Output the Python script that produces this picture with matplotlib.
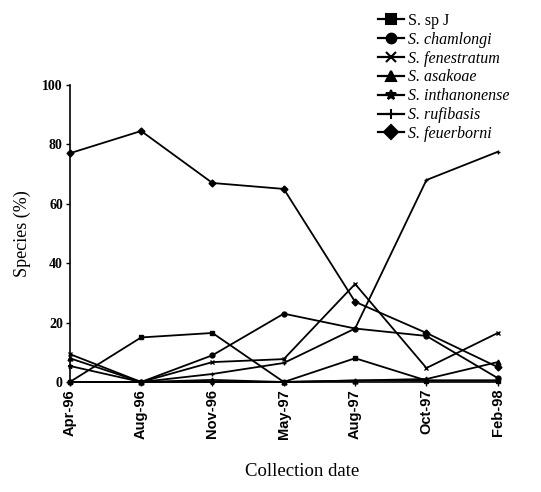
import matplotlib.pyplot as plt
from matplotlib.lines import Line2D

# Collection dates and species percentages
dates = ["Apr-96", "Aug-96", "Nov-96", "May-97", "Aug-97", "Oct-97", "Feb-98"]
sp_j = [0, 15, 16.5, 0, 8, 0.5, 0.5]
chamlongi = [0, 0, 9, 23, 18, 15.5, 1.3]
fenestratum = [9.4, 0, 6.7, 7.7, 33, 4.7, 16.5]
asakoae = [8, 0, 0.7, 0, 0.5, 1, 6.7]
inthanonense = [5.4, 0, 0, 0, 0.5, 0.5, 0.5]
rufibasis = [0, 0, 2.7, 6.4, 18, 68, 77.5]
feuerborni = [77, 84.5, 67, 65, 27, 16.5, 5]

series = [
    ("S. sp J", sp_j, "s"),
    ("S. chamlongi", chamlongi, "o"),
    ("S. fenestratum", fenestratum, "x"),
    ("S. asakoae", asakoae, "^"),
    ("S. inthanonense", inthanonense, "*"),
    ("S. rufibasis", rufibasis, "+"),
    ("S. feuerborni", feuerborni, "D"),
]

fig = plt.figure(figsize=(5.41, 4.92), dpi=100)
ax = fig.add_axes([0.129, 0.2236, 0.7911, 0.6037])

x = list(range(len(dates)))
handles = []
for label, vals, m in series:
    ax.plot(x, vals, color="black", linewidth=1.3, marker=m, markersize=3.5,
            markeredgewidth=1.0, clip_on=False)
    handles.append(Line2D([], [], color="black", linewidth=1.6, marker=m,
                          markersize=7, markeredgewidth=1.5, label=label))

ax.set_xlim(0, 6)
ax.set_ylim(0, 100)
ax.set_yticks([0, 20, 40, 60, 80, 100])
ax.set_xticks(x)
ax.set_xticklabels(dates, rotation=90, fontsize=10.5, fontweight="bold",
                   family="Liberation Sans")
for t in ax.get_yticklabels():
    t.set_fontsize(10)
    t.set_fontweight("bold")
    t.set_family("Liberation Serif")
ax.tick_params(axis="both", direction="out", length=3, width=1, pad=2)

ax.spines["top"].set_visible(False)
ax.spines["right"].set_visible(False)
ax.spines["left"].set_linewidth(1.2)
ax.spines["bottom"].set_linewidth(1.2)

ax.set_ylabel("Species (%)", fontsize=13, family="Liberation Serif", labelpad=8)
fig.text(0.558, 0.025, "Collection date", fontsize=13.5,
         family="Liberation Serif", ha="center", va="bottom")

leg = fig.legend(handles=handles, loc="upper left", bbox_to_anchor=(0.675, 1.0),
                 frameon=False, prop={"family": "Liberation Serif", "size": 11.5},
                 handlelength=1.6, handletextpad=0.3, labelspacing=0.18,
                 borderpad=0.3)
for i, t in enumerate(leg.get_texts()):
    if i > 0:
        t.set_fontstyle("italic")

fig.savefig("out.png", dpi=100)
